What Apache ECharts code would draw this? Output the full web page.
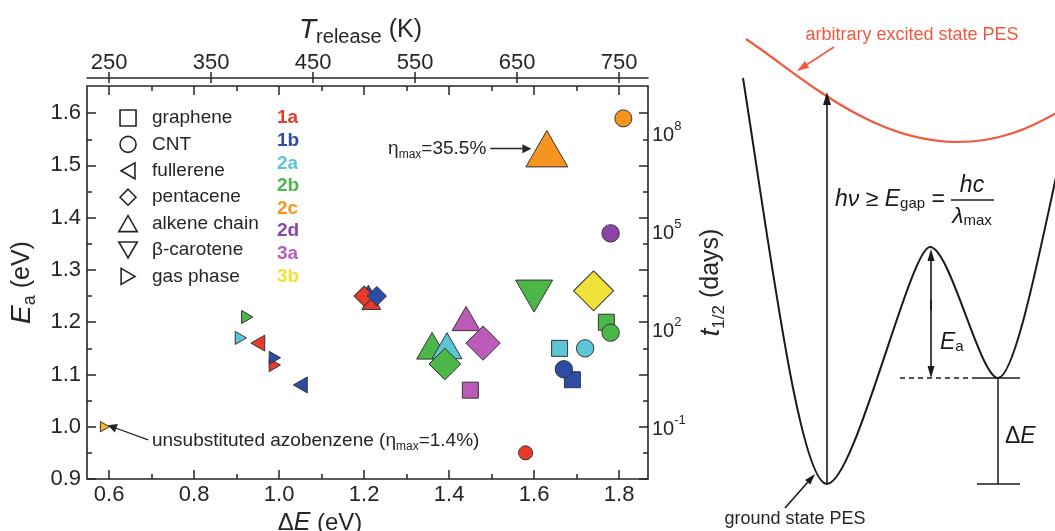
<!DOCTYPE html>
<html><head><meta charset="utf-8">
<script src="https://cdn.jsdelivr.net/npm/echarts@6/dist/echarts.min.js"></script>
<style>html,body{margin:0;padding:0;background:#fff}#c{width:1055px;height:531px}</style>
</head><body><div id="c"></div>
<script>
// ---------------- data ----------------
const shapeNames = ['graphene', 'CNT', 'fullerene', 'pentacene', 'alkene chain', 'β-carotene', 'gas phase'];
const compoundLabels = ['1a', '1b', '2a', '2b', '2c', '2d', '3a', '3b'];
// each point: [ΔE (eV), Ea (eV), compound, ηmax (%)]
const graphene = [[1.66, 1.15, '2a', 7.5], [1.69, 1.09, '1b', 7.5], [1.77, 1.20, '2b', 7.5], [1.45, 1.07, '3a', 7.5]];
const cnt = [[1.58, 0.95, '1a', 5.4], [1.67, 1.11, '1b', 9.0], [1.72, 1.15, '2a', 9.0], [1.78, 1.18, '2b', 9.0], [1.81, 1.59, '2c', 8.6], [1.78, 1.37, '2d', 9.0]];
const fullerene = [[0.95, 1.16, '1a', 7.5], [1.05, 1.08, '1b', 7.5]];
const pentacene = [[1.20, 1.25, '1a', 11.8], [1.23, 1.25, '1b', 11.0], [1.39, 1.12, '2b', 24.4], [1.48, 1.16, '3a', 27.2], [1.74, 1.26, '3b', 33.3]];
const alkeneChain = [[1.21, 1.256, '1b', 9.7], [1.217, 1.24, '1a', 10.5], [1.36, 1.155, '2b', 23.5], [1.395, 1.155, '2a', 22.6], [1.44, 1.207, '3a', 20.4], [1.63, 1.532, '2c', 35.5]];
const betaCarotene = [[1.60, 1.25, '2b', 30.1]];
const gasPhase = [[0.59, 1.00, 'azo', 1.4], [0.91, 1.17, '2a', 4.3], [0.925, 1.21, '2b', 4.3], [0.99, 1.118, '1a', 4.3], [0.99, 1.132, '1b', 4.3]];

const dETicksMajor = [0.6, 0.8, 1.0, 1.2, 1.4, 1.6, 1.8];
const dETicksMinor = [0.7, 0.9, 1.1, 1.3, 1.5, 1.7];
const eaTicksMajor = [0.9, 1.0, 1.1, 1.2, 1.3, 1.4, 1.5, 1.6];
const eaTicksMinor = [0.95, 1.05, 1.15, 1.25, 1.35, 1.45, 1.55];
const tReleaseTicks = [250, 350, 450, 550, 650, 750];
const tHalfExponents = [-1, 2, 5, 8];

// ---------------- scales / styles ----------------
const FONT = '"Liberation Sans", Arial, Helvetica, sans-serif';
const INK = '#262626';
const COLORS = {'1a': '#e8392b', '1b': '#2d4ca4', '2a': '#5cc6d6', '2b': '#4cb749', '2c': '#f7941f',
  '2d': '#8b45a6', '3a': '#bb5bb7', '3b': '#f0e23a', 'azo': '#f8b830'};
const DE_MIN = 0.548, DE_MAX = 1.868, EA_MIN = 0.9, EA_MAX = 1.652;
const tRel = dE => 250 + (dE - 0.6) * 500 / 1.2;          // top axis: T_release (K)
const logT = ea => -1 + (ea - 0.9956) / 0.0625;            // right axis: log10(t1/2 / days)
const sizeOf = eta => 9 + 0.93 * eta;                       // marker size from ηmax
const SYM = {
  'graphene': 'path://M0,0 L10,0 L10,10 L0,10 Z',
  'CNT': 'circle',
  'fullerene': 'path://M0,50 L86.6,0 L86.6,100 Z',
  'pentacene': 'path://M50,0 L100,50 L50,100 L0,50 Z',
  'alkene chain': 'path://M50,0 L100,86.6 L0,86.6 Z',
  'β-carotene': 'path://M0,0 L100,0 L50,86.6 Z',
  'gas phase': 'path://M86.6,50 L0,0 L0,100 Z'
};
const TICK = {color: INK, width: 1.5};
const LBL = {fontSize: 22, color: INK, fontFamily: FONT};

function tickAxis(common, values, len) {
  return Object.assign({type: 'value', splitLine: {show: false},
    axisLine: {show: false, onZero: false}, axisLabel: {show: false},
    axisTick: {show: true, customValues: values, inside: true, length: len, lineStyle: TICK}}, common);
}
const xCommonB = {min: DE_MIN, max: DE_MAX, position: 'bottom'};
const xCommonT = {min: DE_MIN, max: DE_MAX, position: 'top'};
const yCommonL = {min: EA_MIN, max: EA_MAX, position: 'left'};
const yCommonR = {min: EA_MIN, max: EA_MAX, position: 'right'};
const tRelCommon = {min: tRel(DE_MIN), max: tRel(DE_MAX), position: 'top', offset: 8};

const mainX = tickAxis(xCommonB, dETicksMajor, 9);
mainX.axisLabel = Object.assign({customValues: dETicksMajor, formatter: v => v.toFixed(1), margin: 5}, LBL);
mainX.name = '{n|Δ}{i|E}{n| (eV)}';
mainX.nameLocation = 'middle';
mainX.nameGap = 27;
mainX.nameTextStyle = {padding: [0, 95, 0, 0], rich: {
  n: {fontSize: 24, fontFamily: FONT, color: INK},
  i: {fontSize: 25, fontFamily: FONT, fontStyle: 'italic', color: INK}}};

const tAxis = tickAxis(tRelCommon, tReleaseTicks, 6);
tAxis.axisTick = {show: true, customValues: tReleaseTicks, inside: false, length: 6, lineStyle: TICK};
tAxis.axisLine = {show: true, onZero: false, lineStyle: {color: INK, width: 1.6}};
tAxis.axisLabel = Object.assign({customValues: tReleaseTicks, margin: 4}, LBL);
tAxis.name = '{i|T}{s|release}{n| (K)}';
tAxis.nameLocation = 'middle';
tAxis.nameGap = 30;
tAxis.nameTextStyle = {padding: [0, 14, 0, 0], rich: {
  i: {fontSize: 28, fontFamily: FONT, fontStyle: 'italic', color: INK, lineHeight: 34},
  s: {fontSize: 20, fontFamily: FONT, color: INK, lineHeight: 18, verticalAlign: 'bottom'},
  n: {fontSize: 25, fontFamily: FONT, color: INK, lineHeight: 34}}};

const mainY = tickAxis(yCommonL, eaTicksMajor, 9);
mainY.axisLabel = Object.assign({customValues: eaTicksMajor, formatter: v => v.toFixed(1), margin: 6}, LBL);
mainY.name = '{i|E}{s|a}{n| (eV)}';
mainY.nameLocation = 'middle';
mainY.nameRotate = 90;
mainY.nameGap = 47;
mainY.nameTextStyle = {rich: {
  i: {fontSize: 28, fontFamily: FONT, fontStyle: 'italic', color: INK, lineHeight: 34},
  s: {fontSize: 18, fontFamily: FONT, color: INK, lineHeight: 16, verticalAlign: 'bottom'},
  n: {fontSize: 25, fontFamily: FONT, color: INK, lineHeight: 34}}};

const halfAxis = tickAxis({min: logT(EA_MIN), max: logT(EA_MAX), position: 'right'}, tHalfExponents, 0);
halfAxis.axisTick = {show: false};
halfAxis.axisLabel = {customValues: tHalfExponents, margin: 4, formatter: v => '{b|10}{s|' + v + '}',
  rich: {b: {fontSize: 20, fontFamily: FONT, color: INK, lineHeight: 30},
         s: {fontSize: 13, fontFamily: FONT, color: INK, lineHeight: 12, verticalAlign: 'top'}}};
halfAxis.name = '{i|t}{s|1/2}{n| (days)}';
halfAxis.nameLocation = 'middle';
halfAxis.nameRotate = 90;
halfAxis.nameGap = 44;
halfAxis.nameTextStyle = {rich: {
  i: {fontSize: 28, fontFamily: FONT, fontStyle: 'italic', color: INK, lineHeight: 34},
  s: {fontSize: 17, fontFamily: FONT, color: INK, lineHeight: 16, verticalAlign: 'bottom'},
  n: {fontSize: 25, fontFamily: FONT, color: INK, lineHeight: 34}}};

function points(arr) {
  return arr.map(p => ({value: [p[0], p[1], p[3]], name: p[2], symbolSize: sizeOf(p[3]),
    itemStyle: {color: COLORS[p[2]]}}));
}
function scatter(name, arr, z) {
  return {type: 'scatter', name: name, symbol: SYM[name], symbolKeepAspect: true, z: z,
    xAxisIndex: 0, yAxisIndex: 0, data: points(arr),
    itemStyle: {borderColor: '#333', borderWidth: 1, opacity: 1}, emphasis: {disabled: true}};
}
const annoRich = {a: {fontSize: 19, fontFamily: FONT, color: INK, lineHeight: 24},
                  s: {fontSize: 12, fontFamily: FONT, color: INK, lineHeight: 12, verticalAlign: 'bottom'}};
function arrowLine(from, to, text) {
  return {silent: true, animation: false, symbol: ['none', 'triangle'], symbolSize: 9,
    lineStyle: {color: INK, width: 1.3, type: 'solid'},
    label: {show: true, position: 'start', distance: 4, formatter: text, rich: annoRich},
    data: [[{coord: from}, {coord: to}]]};
}

const sAlkene = scatter('alkene chain', alkeneChain, 2);
const peak = alkeneChain[alkeneChain.length - 1];
sAlkene.markLine = arrowLine([1.497, peak[1]], [1.583, peak[1]], '{a|η}{s|max}{a|=' + peak[3] + '%}');
const sGas = scatter('gas phase', gasPhase, 3);
const azo = gasPhase[0];
sGas.markLine = arrowLine([0.692, 0.975], [0.607, azo[1]], '{a|unsubstituted azobenzene (η}{s|max}{a|=' + azo[3] + '%)}');

// ---------------- schematic (right panel) ----------------
const BLK = '#1a1a1a', RED = '#f2583e';
function arrow(x1, y1, x2, y2, color, L, W) {
  L = L || 12; W = W || 8;
  const a = Math.atan2(y2 - y1, x2 - x1);
  const bx = x2 - L * Math.cos(a), by = y2 - L * Math.sin(a);
  const px = -Math.sin(a) * W / 2, py = Math.cos(a) * W / 2;
  return [{type: 'line', shape: {x1: x1, y1: y1, x2: bx, y2: by}, style: {stroke: color, lineWidth: 1.6}},
          {type: 'polygon', shape: {points: [[x2, y2], [bx + px, by + py], [bx - px, by - py]]}, style: {fill: color}}];
}
function bez(p, color, w) {
  return {type: 'bezierCurve', shape: {x1: p[0], y1: p[1], cpx1: p[2], cpy1: p[3], cpx2: p[4], cpy2: p[5], x2: p[6], y2: p[7]},
    style: {stroke: color, lineWidth: w, fill: null}};
}
function txt(x, y, text, size, opts) {
  return {type: 'text', x: x, y: y, style: Object.assign({text: text, fontSize: size, fontFamily: FONT, fill: INK,
    align: 'center', verticalAlign: 'middle'}, opts || {})};
}
const mathRich = {i: {fontSize: 23, fontFamily: FONT, fontStyle: 'italic', fill: BLK},
  n: {fontSize: 23, fontFamily: FONT, fill: BLK},
  s: {fontSize: 15, fontFamily: FONT, fill: BLK, lineHeight: 14, verticalAlign: 'bottom'}};
const schematic = [].concat(
  [bez([746, 39, 800, 75, 870, 142, 957, 142], RED, 2.2), bez([957, 142, 1000, 142, 1030, 128, 1058, 112], RED, 2.2),
   bez([743, 78, 770, 250, 800, 484, 827, 484], BLK, 2), bez([827, 484, 855, 484, 910, 247, 930, 247], BLK, 2),
   bez([930, 247, 950, 247, 980, 378, 998, 378], BLK, 2), bez([998, 378, 1015, 378, 1040, 250, 1058, 168], BLK, 2)],
  arrow(827, 484, 827, 92, BLK, 13, 8),
  arrow(931, 310, 931, 249, BLK, 12, 7), arrow(931, 300, 931, 378, BLK, 12, 7),
  arrow(834, 47, 797, 71, RED, 12, 8), arrow(785, 508, 815, 474, BLK, 11, 7),
  [{type: 'line', shape: {x1: 900, y1: 378, x2: 977, y2: 378}, style: {stroke: BLK, lineWidth: 1.5, lineDash: [5, 4]}},
   {type: 'line', shape: {x1: 977, y1: 378, x2: 1020, y2: 378}, style: {stroke: BLK, lineWidth: 1.5}},
   {type: 'line', shape: {x1: 998, y1: 378, x2: 998, y2: 484}, style: {stroke: BLK, lineWidth: 1.5}},
   {type: 'line', shape: {x1: 977, y1: 484, x2: 1020, y2: 484}, style: {stroke: BLK, lineWidth: 1.5}},
   {type: 'line', shape: {x1: 951, y1: 200, x2: 994, y2: 200}, style: {stroke: BLK, lineWidth: 1.5}},
   txt(912, 35, 'arbitrary excited state PES', 18, {fill: RED}),
   txt(835, 200, '{i|hν} {n|≥} {i|E}{s|gap} {n|=}', 23, {align: 'left', rich: mathRich}),
   txt(972, 186, '{i|hc}', 23, {rich: mathRich}),
   txt(972, 217, '{i|λ}{s|max}', 23, {rich: mathRich}),
   txt(940, 343, '{i|E}{s|a}', 23, {align: 'left', rich: mathRich}),
   txt(1005, 437, '{n|Δ}{i|E}', 23, {align: 'left', rich: mathRich}),
   txt(795, 519, 'ground state PES', 18)]
);
const compoundText = compoundLabels.map((c, i) =>
  txt(277, 118 + i * 22.65, c, 19, {align: 'left', fill: COLORS[c], fontWeight: 'bold'}));

// ---------------- chart ----------------
const chart = echarts.init(document.getElementById('c'), null, {renderer: 'canvas'});
chart.setOption({
  animation: false,
  backgroundColor: '#ffffff',
  textStyle: {fontFamily: FONT},
  grid: {left: 87, top: 86, width: 561, height: 393, show: true, borderColor: INK, borderWidth: 1.6,
    backgroundColor: 'transparent', containLabel: false, outerBoundsMode: 'none'},
  xAxis: [mainX, tickAxis(xCommonB, dETicksMinor, 5), tickAxis(xCommonT, dETicksMajor, 9), tickAxis(xCommonT, dETicksMinor, 5),
          tAxis, tickAxis(tRelCommon, tReleaseTicks, 5)],
  yAxis: [mainY, tickAxis(yCommonL, eaTicksMinor, 5), tickAxis(yCommonR, eaTicksMajor, 9), tickAxis(yCommonR, eaTicksMinor, 5), halfAxis],
  legend: {data: shapeNames.map(n => ({name: n, icon: SYM[n]})), orient: 'vertical', left: 113, top: 103.5,
    itemWidth: 30, itemHeight: 16, itemGap: 7.4, selectedMode: false,
    itemStyle: {color: 'rgba(0,0,0,0)', borderColor: INK, borderWidth: 1.6},
    textStyle: {fontSize: 19, color: INK, fontFamily: FONT, lineHeight: 16, padding: [0, 0, 0, 4]}},
  series: [sAlkene, scatter('β-carotene', betaCarotene, 2), scatter('fullerene', fullerene, 2), sGas,
           scatter('graphene', graphene, 2), scatter('CNT', cnt, 2), scatter('pentacene', pentacene, 2)],
  graphic: {elements: schematic.concat(compoundText)}
});
</script></body></html>
